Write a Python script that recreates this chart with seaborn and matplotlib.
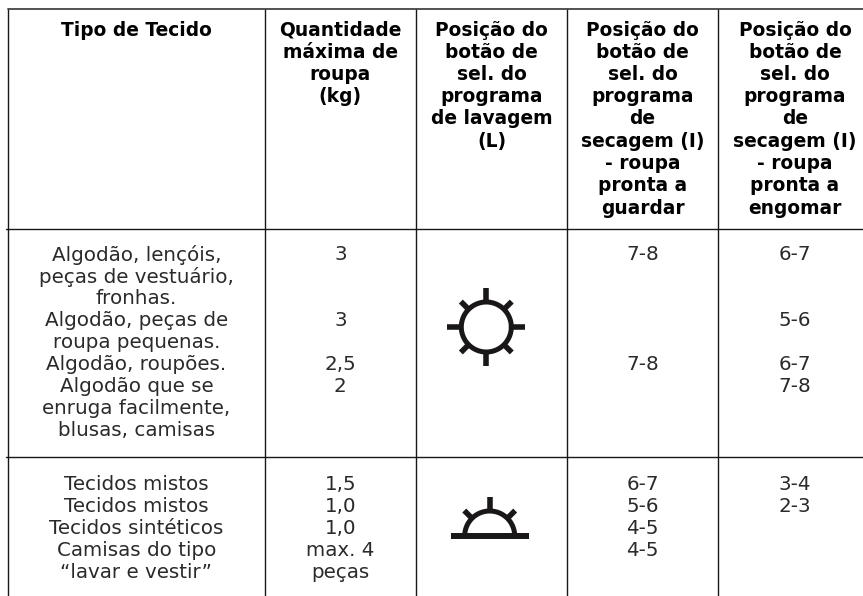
import matplotlib
matplotlib.use('Agg')
import matplotlib.pyplot as plt
import seaborn as sns
import numpy as np

sns.set_theme(style='white')
plt.rcParams['font.family'] = ['DejaVu Sans']

W, H = 863, 596

# table texts
headers = [['Tipo de Tecido'],
           ['Quantidade', 'máxima de', 'roupa', '(kg)'],
           ['Posição do', 'botão de', 'sel. do', 'programa', 'de lavagem', '(L)'],
           ['Posição do', 'botão de', 'sel. do', 'programa', 'de', 'secagem (I)', '- roupa', 'pronta a', 'guardar'],
           ['Posição do', 'botão de', 'sel. do', 'programa', 'de', 'secagem (I)', '- roupa', 'pronta a', 'engomar']]
tipo_1 = ['Algodão, lençóis,', 'peças de vestuário,', 'fronhas.', 'Algodão, peças de',
          'roupa pequenas.', 'Algodão, roupões.', 'Algodão que se',
          'enruga facilmente,', 'blusas, camisas']
tipo_2 = ['Tecidos mistos', 'Tecidos mistos', 'Tecidos sintéticos', 'Camisas do tipo', '“lavar e vestir”']
qtd_1 = [(0, '3'), (3, '3'), (5, '2,5'), (6, '2')]
qtd_2 = ['1,5', '1,0', '1,0', 'max. 4', 'peças']
guardar_1 = [(0, '7-8'), (5, '7-8')]
guardar_2 = ['6-7', '5-6', '4-5', '4-5']
engomar_1 = [(0, '6-7'), (3, '5-6'), (5, '6-7'), (6, '7-8')]
engomar_2 = ['3-4', '2-3']

col_x = [8, 264.7, 416, 567, 718, 872]
row_y = [8.7, 229, 456.7]

fig, ax = plt.subplots(figsize=(W / 100, H / 100), dpi=100)
ax.set_position([0, 0, 1, 1])
ax.set_xlim(0, W)
ax.set_ylim(H, 0)
ax.axis('off')

ink = '#1a1718'
for x in col_x[:-1]:
    ax.plot([x, x], [row_y[0], H], color=ink, lw=1.0)
ax.plot([col_x[0], W], [row_y[0], row_y[0]], color='#444444', lw=1.3)
for y in row_y[1:]:
    ax.plot([6, W], [y, y], color=ink, lw=1.0)

centers = [(col_x[i] + col_x[i + 1]) / 2 for i in range(5)]
for c, lines in zip(centers, headers):
    for i, s in enumerate(lines):
        ax.text(c, 30 + i * 22.25, s, ha='center', va='center', fontsize=13.4, fontweight='bold', color='black')

def put(col, y0, idx, s):
    ax.text(centers[col], y0 + idx * 21.9, s, ha='center', va='center', fontsize=14.3, color='#2a2a2a')

y1 = 255
for i, s in enumerate(tipo_1):
    put(0, y1, i, s)
for i, s in qtd_1:
    put(1, y1, i, s)
for i, s in guardar_1:
    put(3, y1, i, s)
for i, s in engomar_1:
    put(4, y1, i, s)

y2 = 485
for i, s in enumerate(tipo_2):
    put(0, y2, i, s)
for i, s in enumerate(qtd_2):
    put(1, y2, i, s)
for i, s in enumerate(guardar_2):
    put(3, y2, i, s)
for i, s in enumerate(engomar_2):
    put(4, y2, i, s)

# sun symbols
cx, cy = 486.3, 327
ang = np.linspace(0, 2 * np.pi, 100)
ax.plot(cx + 25 * np.cos(ang), cy + 25 * np.sin(ang), color=ink, lw=3.6)
for a in np.arange(0, 360, 45):
    r1 = 39 if a % 90 == 0 else 36
    t = np.radians(a)
    ax.plot([cx + 25 * np.cos(t), cx + r1 * np.cos(t)], [cy + 25 * np.sin(t), cy + r1 * np.sin(t)],
            color=ink, lw=4, solid_capstyle='butt')

cx2, cy2 = 489.7, 536
ang = np.linspace(np.pi, 2 * np.pi, 60)
ax.plot(cx2 + 25 * np.cos(ang), cy2 + 25 * np.sin(ang), color=ink, lw=3.6)
ax.plot([cx2 - 39, cx2 + 39], [cy2, cy2], color=ink, lw=4.3, solid_capstyle='butt')
for a in [225, 270, 315]:
    t = np.radians(a)
    r1 = 39 if a == 270 else 36
    ax.plot([cx2 + 25 * np.cos(t), cx2 + r1 * np.cos(t)], [cy2 + 25 * np.sin(t), cy2 + r1 * np.sin(t)],
            color=ink, lw=4, solid_capstyle='butt')

plt.savefig('out.png', dpi=100)
